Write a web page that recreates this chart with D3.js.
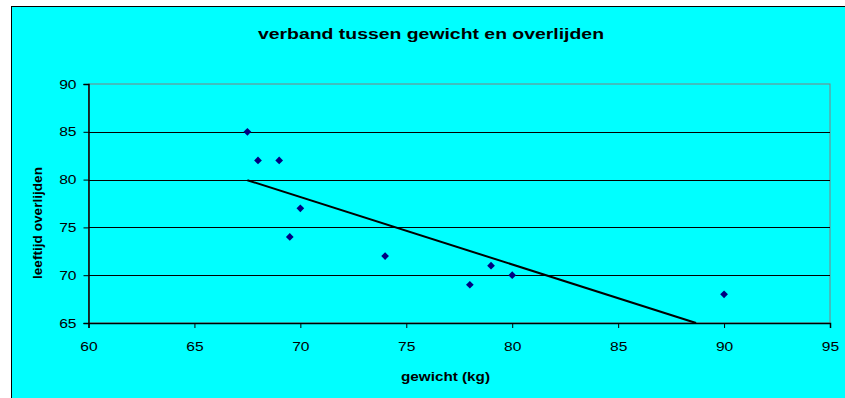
<!DOCTYPE html>
<html><head><meta charset="utf-8">
<script src="https://cdn.jsdelivr.net/npm/d3@7"></script>
<style>html,body{margin:0;padding:0;background:#fff;}svg{display:block;}</style>
</head><body>
<script>
const gewicht = [67.5, 68, 69, 69.5, 70, 74, 78, 79, 80, 90];
const leeftijd = [85, 82, 82, 74, 77, 72, 69, 71, 70, 68];
const xTicks = [60, 65, 70, 75, 80, 85, 90, 95];
const yTicks = [65, 70, 75, 80, 85, 90];
const title = "verband tussen gewicht en overlijden";
const xTitle = "gewicht (kg)";
const yTitle = "leeftijd overlijden";

const W = 845, H = 398;
const L = 88.5, R = 830, T = 84, B = 323;
const svg = d3.select("body").append("svg").attr("width", W).attr("height", H);
svg.append("rect").attr("x", 11.5).attr("y", 6.5).attr("width", W).attr("height", H)
  .attr("fill", "#00ffff").attr("stroke", "#000").attr("stroke-width", 1);

const x = d3.scaleLinear().domain([60, 95]).range([L, R]);
const y = d3.scaleLinear().domain([65, 90]).range([B, T]);
const font = "Liberation Sans, Arial, sans-serif";

// plot border (gray)
svg.append("rect").attr("x", L).attr("y", T).attr("width", R - L).attr("height", B - T)
  .attr("fill", "none").attr("stroke", "#808080").attr("stroke-width", 1);

// gridlines
svg.append("g").selectAll("line").data(yTicks.filter(d => d > 65 && d < 90)).join("line")
  .attr("x1", L).attr("x2", R).attr("y1", d => Math.round(y(d)) + 0.5).attr("y2", d => Math.round(y(d)) + 0.5)
  .attr("stroke", "#000").attr("stroke-width", 1);

// axes
const gx = svg.append("g").attr("transform", `translate(0,${B})`)
  .call(d3.axisBottom(x).tickValues(xTicks).tickSize(5).tickPadding(14).tickFormat(d3.format("d")));
const gy = svg.append("g").attr("transform", `translate(${L},0)`)
  .call(d3.axisLeft(y).tickValues(yTicks).tickSize(5).tickPadding(7).tickFormat(d3.format("d")));
[gx, gy].forEach(g => {
  g.select(".domain").attr("stroke", "#000").attr("stroke-width", 1.5);
  g.selectAll(".tick line").attr("stroke", "#000");
  g.selectAll("text").attr("font-family", font).attr("font-size", 13).attr("fill", "#000");
});
gx.selectAll(".tick text").attr("transform", function() {
  return `translate(0,${+d3.select(this).attr("y")}) scale(1.2,1)`;
}).attr("y", 0);
gy.selectAll(".tick text").attr("transform", "translate(-12,0) scale(1.2,1)").attr("x", 0);

// trendline (linear regression), clipped to plot area
const n = gewicht.length;
const mx = d3.mean(gewicht), my = d3.mean(leeftijd);
let sxy = 0, sxx = 0;
for (let i = 0; i < n; i++) { sxy += (gewicht[i] - mx) * (leeftijd[i] - my); sxx += (gewicht[i] - mx) ** 2; }
const slope = sxy / sxx, icpt = my - slope * mx;
const x0 = d3.min(gewicht);
let x1 = d3.max(gewicht);
const xAt65 = (65 - icpt) / slope;
if (xAt65 < x1) x1 = xAt65;
svg.append("line").attr("x1", x(x0)).attr("y1", y(icpt + slope * x0))
  .attr("x2", x(x1)).attr("y2", y(icpt + slope * x1))
  .attr("stroke", "#000").attr("stroke-width", 2);

// markers
svg.append("g").selectAll("path").data(gewicht.map((g, i) => [g, leeftijd[i]])).join("path")
  .attr("d", d3.symbol(d3.symbolDiamond2, 38))
  .attr("transform", d => `translate(${x(d[0])},${y(d[1])})`)
  .attr("fill", "#000080");

// titles
svg.append("text").attr("x", 258).attr("y", 39)
  .attr("textLength", 346).attr("lengthAdjust", "spacingAndGlyphs")
  .attr("font-family", font).attr("font-weight", "bold").attr("font-size", 15).text(title);
svg.append("text").attr("x", 401).attr("y", 381)
  .attr("textLength", 89).attr("lengthAdjust", "spacingAndGlyphs")
  .attr("font-family", font).attr("font-weight", "bold").attr("font-size", 12.5).text(xTitle);
svg.append("text").attr("transform", "translate(42,279) rotate(-90)")
  .attr("textLength", 112).attr("lengthAdjust", "spacingAndGlyphs")
  .attr("font-family", font).attr("font-weight", "bold").attr("font-size", 12.5).text(yTitle);
</script>
</body></html>
